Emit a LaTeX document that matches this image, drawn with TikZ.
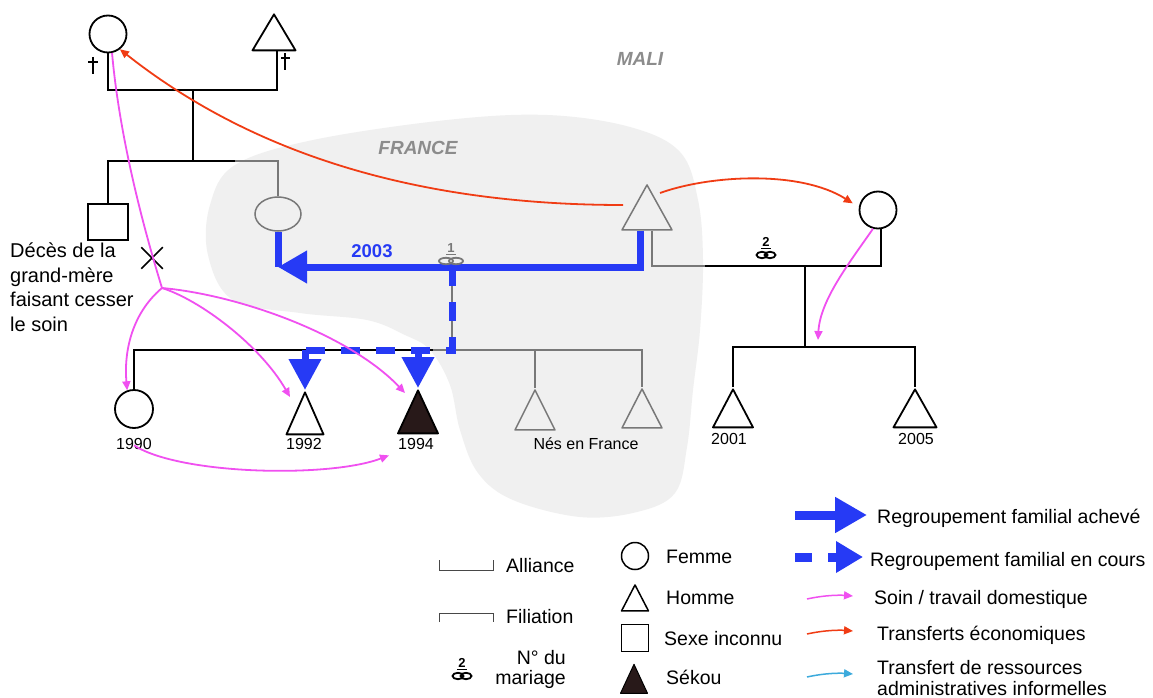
\documentclass[tikz,border=0pt]{standalone}
\usepackage{fontspec}
\setmainfont{Liberation Sans}
\usetikzlibrary{arrows.meta,shapes.geometric,shapes.misc}
\definecolor{bluec}{RGB}{38,58,245}
\definecolor{pinkc}{RGB}{240,80,240}
\definecolor{redc}{RGB}{240,60,20}
\definecolor{cyanc}{RGB}{60,170,220}
\definecolor{blobc}{RGB}{240,240,240}
\definecolor{linegray}{RGB}{120,120,120}
\definecolor{txtgray}{RGB}{140,140,140}
\definecolor{sekc}{RGB}{40,25,25}
\newcommand{\mrsym}[6]{%
  \begin{scope}[shift={(#1,#2)}]
    \node[text=#4, font=\fontsize{13}{13}\selectfont\bfseries, inner sep=0pt] at (0,-12) {#3};
    \draw[#4, line width=1.2pt] (-5,-5.5) -- (5,-5.5);
    \draw[#4, line width=1.8pt] (-#6,1) ellipse [x radius=#5 pt, y radius=3.2pt];
    \draw[#4, line width=1.8pt] (#6,1) ellipse [x radius=#5 pt, y radius=3.2pt];
  \end{scope}}
\tikzset{
  blk/.style={line width=2pt, black},
  gry/.style={line width=1.5pt, linegray},
  blu/.style={line width=7pt, bluec},
  pk/.style={line width=1.8pt, pinkc, -{Triangle[length=9pt,width=8pt]}},
  rd/.style={line width=1.8pt, redc, -{Triangle[length=9pt,width=8pt]}},
  fem/.style={circle, draw, line width=1.8pt, inner sep=0pt},
  hom/.style={isosceles triangle, isosceles triangle stretches, shape border rotate=90, draw, line width=1.8pt, inner sep=0pt, line join=round, anchor=apex},
  unk/.style={rectangle, draw, line width=1.8pt, inner sep=0pt},
  tx/.style={inner sep=0pt, font=\fontsize{19.5}{21}\selectfont, anchor=base west},
  yr/.style={inner sep=0pt, font=\fontsize{16}{16}\selectfont, anchor=base},
  bigtip/.style={-{Triangle[length=31pt,width=31pt]}}
}
\begin{document}
\begin{tikzpicture}[x=1pt,y=-1pt]
\fill[white] (0,0) rectangle (1153,698);
\useasboundingbox (0,0) rectangle (1153,698);
% France area
\fill[blobc] plot[smooth cycle, tension=0.6] coordinates {(210,205) (235,165) (313,140) (447,120) (547,115) (630,127) (680,152) (698,200) (703,260) (700,330) (693,390) (687,447) (675,493) (637,512) (580,517) (513,500) (478,473) (460,430) (450,385) (430,350) (405,335) (367,320) (300,313) (233,300) (208,255)};
\node[font=\fontsize{19}{19}\selectfont\bfseries\itshape, text=txtgray, inner sep=0pt] (mali) at (640,59) {MALI};
\node[font=\fontsize{19}{19}\selectfont\bfseries\itshape, text=txtgray, inner sep=0pt] (france) at (418,148) {FRANCE};

% persons
\node[fem, minimum size=37pt] (gm) at (108,34) {};
\node[hom, minimum width=43pt, minimum height=36pt] (gf) at (274,12) {};
\node[unk, minimum width=40pt, minimum height=36pt] (sq) at (108,222) {};
\node[ellipse, draw=linegray, line width=1.5pt, minimum width=46pt, minimum height=34pt, inner sep=0pt] (mo) at (278,214) {};
\node[hom, draw=linegray, line width=1.5pt, minimum width=50pt, minimum height=45pt] (fa) at (647,183) {};
\node[fem, minimum size=37pt] (w2) at (878,210) {};
\node[fem, minimum size=38pt] (c1990) at (134,409) {};
\node[hom, minimum width=37pt, minimum height=42pt] (c1992) at (305,390) {};
\node[hom, fill=sekc, minimum width=40pt, minimum height=43pt] (sek) at (418,388) {};
\node[hom, draw=linegray, line width=1.5pt, minimum width=40pt, minimum height=40pt] (fr1) at (535,388) {};
\node[hom, draw=linegray, line width=1.5pt, minimum width=40pt, minimum height=39pt] (fr2) at (642,387) {};
\node[hom, minimum width=40pt, minimum height=38pt] (c2001) at (733,387) {};
\node[hom, minimum width=43pt, minimum height=38pt] (c2005) at (915,387) {};

% daggers
\draw[line width=2pt] (93,57) -- (93,74) (88,62) -- (98,62);
\draw[line width=2pt] (285,53) -- (285,70) (281,58) -- (290,58);

% grandparents
\coordinate (g1) at (193,90);
\coordinate (g2) at (193,161);
\coordinate (g2e) at (235,161);
\draw[blk] (gm.south) |- (g1) -| ([xshift=3pt]gf.south);
\draw[blk] (g1) -- (g2);
\draw[blk] (sq.north) |- (g2e);
\draw[gry] (g2e) -| (mo.north);

% marriage 2
\coordinate (m2a) at (705,266);
\coordinate (f2) at (805,347);
\draw[gry] ([xshift=5pt]fa.south) |- (m2a);
\draw[blk] (m2a) -| ([xshift=3pt]w2.south);
\draw[blk] (f2 |- m2a) -- (f2);
\draw[blk] (c2001.apex) |- (f2) -| (c2005.apex);

% marriage 1 children line
\coordinate (m1) at (452,267);
\coordinate (m1c) at (452,350);
\coordinate (m1k) at (433,350);
\draw[gry] (m1) -- (m1c);
\draw[blk] (c1990.north) |- (m1k);
\draw[gry] (m1k) -| (fr2.apex);
\draw[gry] (fr1.apex) -- (fr1.apex |- m1k);

% blue: completed reunification
\draw[blu] (mo.south) -- (mo.south |- m1);
\draw[blu, -{Triangle[length=29pt,width=31pt]}] ([xshift=-7pt]fa.south) |- (mo.south |- m1);
% blue: ongoing reunification
\draw[blu, dash pattern=on 19pt off 16pt] (m1) |- (c1992.apex |- m1c);
\draw[blu, bigtip] (c1992.apex |- m1c) -- (c1992.apex);
\draw[blu, bigtip] (sek.apex |- m1c) -- (sek.apex);
\node[font=\fontsize{18.5}{18.5}\selectfont\bfseries, text=bluec, inner sep=0pt, anchor=base] (y2003) at (372,257) {2003};

% marriage symbols
\mrsym{451}{260}{1}{linegray}{7}{5}
\mrsym{766}{254}{2}{black}{5.5}{4}

% years
\node[yr] (y1990) at (134,449) {1990};
\node[yr] (y1992) at (304,449) {1992};
\node[yr] (y1994) at (416,449) {1994};
\node[yr] (nes) at (586,449) {Nés en France};
\node[yr] (y2001) at (729,444) {2001};
\node[yr] (y2005) at (916,444) {2005};

% death note
\node[inner sep=0pt, align=left, anchor=north west, font=\fontsize{20}{24.5}\selectfont] (deces) at (10,243) {Décès de la\\grand-mère\\faisant cesser\\le soin};
\node[cross out, draw, line width=1.5pt, minimum size=20pt, inner sep=0pt] (dx) at (152,258) {};

% care arrows
\coordinate (br) at (162,288);
\draw[line width=1.8pt, pinkc] (gm.-78) .. controls (118,120) and (135,200) .. (br);
\draw[pk] (br) .. controls (130,315) and (124,355) .. (c1990.110);
\draw[pk] (br) .. controls (200,300) and (260,345) .. ([shift={(-15,7)}]c1992.apex);
\draw[pk] (br) .. controls (240,295) and (350,335) .. ([shift={(-13,5)}]sek.apex);
\draw[pk] ([yshift=4pt]y1990.south) .. controls (180,475) and (330,478) .. ([shift={(-9,6)}]y1994.south west);
\draw[pk] (w2.-105) .. controls (850,262) and (820,300) .. ([shift={(13,-7)}]f2);

% economic transfers
\draw[rd] ([shift={(-24,22)}]fa.apex) .. controls (430,205) and (260,160) .. (gm.-52);
\draw[rd] ([shift={(13,10)}]fa.apex) .. controls (710,175) and (800,170) .. ([xshift=-7pt]w2.160);

% ---- legend ----
\draw[line width=1pt, linegray!60!black] (439,560) -- (439,570) -- (493,570) -- (493,560);
\node[tx] (lalliance) at (506,572) {Alliance};
\draw[line width=1pt, linegray!60!black] (439,622) -- (439,613) -- (493,613) -- (493,622);
\node[tx] (lfiliation) at (506,623) {Filiation};
\mrsym{462}{675}{2}{black}{5.5}{4}
\node[inner sep=0pt, align=right, anchor=north east, font=\fontsize{19.5}{20}\selectfont] (lmar) at (566,650) {N° du\\mariage};

\node[fem, minimum size=27pt, line width=1.5pt] (lf) at (635,556) {};
\node[tx] (lfemme) at (666,563) {Femme};
\node[hom, line width=1.5pt, minimum width=27pt, minimum height=26pt] (lh) at (635,583) {};
\node[tx] (lhomme) at (666,604) {Homme};
\node[unk, line width=1.5pt, minimum width=27pt, minimum height=27pt] (lu) at (635,638) {};
\node[tx] (lunk) at (664,645) {Sexe inconnu};
\node[hom, fill=sekc, line width=1pt, minimum width=27pt, minimum height=29pt] (lk) at (634,663) {};
\node[tx] (lsek) at (666,684) {Sékou};

\coordinate (la1) at (795,515); \coordinate (lb1) at (867,515);
\draw[line width=9pt, bluec, -{Triangle[length=32pt,width=34pt]}] (la1) -- (lb1);
\node[tx] (lach) at (877,523) {Regroupement familial achevé};
\coordinate (la2) at (795,557); \coordinate (lb2) at (863,557);
\draw[line width=9pt, bluec, dash pattern=on 17pt off 16pt, -{Triangle[length=27pt,width=30pt]}] (la2) -- (lb2);
\node[tx] (lcours) at (870,566) {Regroupement familial en cours};
\coordinate (la3) at (807,599); \coordinate (lb3) at (853,596);
\draw[pk, line width=1.5pt] (la3) .. controls (825,595) and (840,595) .. (lb3);
\node[tx] (lsoin) at (874,604) {Soin / travail domestique};
\coordinate (la4) at (807,634); \coordinate (lb4) at (853,631);
\draw[rd, line width=1.5pt] (la4) .. controls (825,630) and (840,630) .. (lb4);
\node[tx] (leco) at (877,640) {Transferts économiques};
\coordinate (la5) at (807,677); \coordinate (lb5) at (853,674);
\draw[line width=1.5pt, cyanc, -{Triangle[length=9pt,width=8pt]}] (la5) .. controls (825,673) and (840,673) .. (lb5);
\node[inner sep=0pt, align=left, anchor=north west, font=\fontsize{19.5}{21}\selectfont] (ladm) at (877,660) {Transfert de ressources\\administratives informelles};
\end{tikzpicture}
\end{document}
